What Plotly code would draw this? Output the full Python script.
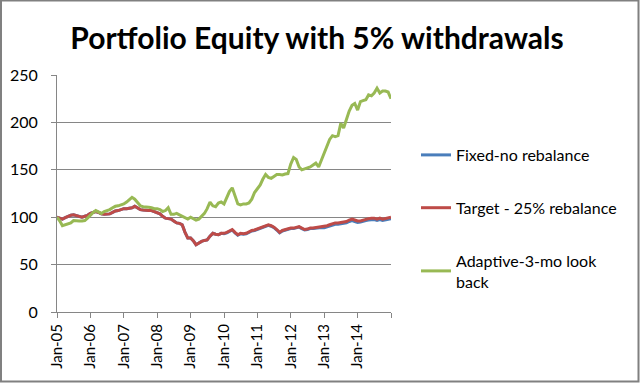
import plotly.graph_objects as go
import pandas as pd

months = pd.date_range("2005-01-01", periods=121, freq="MS")

fixed = [100, 99, 98, 99.5, 101, 102, 102.5, 101.5, 100.5, 100, 101, 102,
         104, 105, 106, 105, 103.5, 103, 103, 103.5, 105, 106.5, 107, 108,
         109, 109, 109.5, 110, 111.5, 110, 108, 107.5, 107, 107, 107, 106,
         104.5, 103.5, 101, 99, 98.5, 98, 96, 94, 93.5, 92, 84, 78,
         78, 75, 71, 73, 74.5, 75.5, 76, 80, 83, 82, 81.5, 83,
         82.5, 83.5, 85, 86.5, 83.5, 81, 82.5, 82, 82.5, 84, 85.5, 86,
         87, 88, 89, 90.5, 91.5, 90.5, 89, 86.5, 83.5, 85.5, 86.5, 87.5,
         88, 88, 89, 89.5, 88, 86.5, 87, 88, 88, 88.5, 88.5, 89,
         89, 90, 91, 92, 92.5, 92.5, 93, 93, 94, 95.5, 96.5, 95.5,
         94.5, 95, 96, 96.5, 97, 97.5, 97.5, 96.5, 97.5, 96.5, 97, 97.5, 98.5]

target = [100, 99, 98, 99.5, 101, 102, 102.5, 101.5, 100.5, 100, 101, 102,
          104, 105, 106, 105, 103.5, 103, 103, 103.5, 105, 106.5, 107, 108,
          109, 109, 109.5, 110, 111.5, 110, 108, 107.5, 107, 107, 107, 106,
          104.5, 103.5, 101, 99, 98.5, 98, 96, 94, 93.5, 92, 84, 78,
          78, 75, 71, 73, 74.5, 75.5, 76, 80, 83, 82, 81.5, 83,
          83, 84, 85.5, 87, 84, 81.5, 83, 82.5, 83, 84.5, 86, 86.5,
          87.5, 88.5, 89.5, 91, 92, 91, 89.5, 87, 84, 86, 87, 88,
          88.5, 88.5, 89.5, 90, 88.5, 87, 87.5, 88.5, 88.5, 89, 89, 89.5,
          90, 91, 92, 93, 94, 94, 94.5, 94.5, 95.5, 97, 98, 97,
          96, 96, 97, 98, 98.5, 99, 99, 98, 99, 98, 98.5, 99, 100]

adaptive = [100, 96, 91, 92, 93, 94, 96.5, 96, 96, 96, 96.5, 99,
            102.5, 105, 107, 105, 104, 106, 107, 108, 110, 111.5, 112, 113,
            114, 116, 118, 121, 119, 115, 112, 111, 111, 110.5, 110, 109,
            109, 108, 106, 107, 110, 103, 103, 104, 102.5, 101, 99, 98,
            100, 98.5, 97, 98, 100.5, 104, 109, 116, 112, 111, 115, 116,
            114, 121, 127, 131, 122, 114, 113, 114, 114, 115, 119, 126,
            130, 134, 140, 145, 142, 141, 143, 145, 145, 144.5, 145.5, 146,
            156, 163, 161, 153, 150, 151, 152, 153, 155, 157, 153, 160,
            167, 175, 182, 186, 185, 186, 199, 194, 203, 212, 218, 220,
            213, 222, 223, 224, 229, 228, 231, 236, 231, 233, 233, 232, 225]

names = ["Fixed-no rebalance", "Target - 25% rebalance", "Adaptive-3-mo look<br>back"]
colors = ["#4A7EBB", "#BE4B48", "#98B954"]

tick_dates = pd.date_range("2005-01-01", periods=11, freq="12MS")
tick_text = [d.strftime("Jan-%y") for d in tick_dates[:-1]] + [""]

y_ticks = [0, 50, 100, 150, 200, 250]

fig = go.Figure()
for name, vals, col, grp in zip(names, [fixed, target, adaptive], colors, ["a", "b", "c"]):
    fig.add_trace(go.Scatter(x=months, y=vals, mode="lines", name=name,
                             legendgroup=grp,
                             line=dict(color=col, width=3)))

W, H = 640, 383
ml, mr, mt, mb = 57, 249, 75, 71
pw, ph = W - ml - mr, H - mt - mb

fig.update_layout(
    width=W, height=H,
    margin=dict(l=ml, r=mr, t=mt, b=mb, pad=0, autoexpand=False),
    paper_bgcolor="white", plot_bgcolor="white",
    font=dict(family="Lato, Carlito, sans-serif", color="#000000"),
    title=dict(text="<b>Portfolio Equity with 5% withdrawals</b>",
               x=317 / W, xanchor="center", y=1 - 38 / H, yanchor="middle",
               font=dict(size=30, color="#000000")),
    showlegend=True,
    legend=dict(x=(416 - ml) / pw, xanchor="left", y=1 - (138 - mt) / ph, yanchor="top",
                font=dict(size=16, color="#000000"), tracegroupgap=29,
                bgcolor="rgba(0,0,0,0)"),
    xaxis=dict(type="date", range=["2005-01-01", "2015-01-01"], automargin=False,
               tickvals=tick_dates, ticktext=tick_text, tickangle=-90,
               showgrid=False, showline=True, linecolor="#868686", linewidth=1,
               ticks="outside", ticklen=5, tickcolor="#868686",
               tickfont=dict(size=15, color="#000000")),
    yaxis=dict(range=[0, 250], tickvals=y_ticks, showgrid=True, gridcolor="#868686",
               gridwidth=1, showline=True, linecolor="#868686", linewidth=1,
               automargin=False, ticklabelstandoff=10,
               ticks="outside", ticklen=5, tickcolor="#868686", zeroline=False,
               tickfont=dict(size=16, color="#000000")),
)

fig.add_shape(type="rect", xref="paper", yref="paper",
              x0=-(ml - 1) / pw, x1=1 + (mr - 1.5) / pw,
              y0=-(mb - 1.5) / ph, y1=1 + (mt - 0.5) / ph,
              line=dict(color="#808080", width=2), fillcolor="rgba(0,0,0,0)", layer="above")

fig.write_html("out.html", config={"displayModeBar": False},
               post_script="document.body.style.margin='0';")
